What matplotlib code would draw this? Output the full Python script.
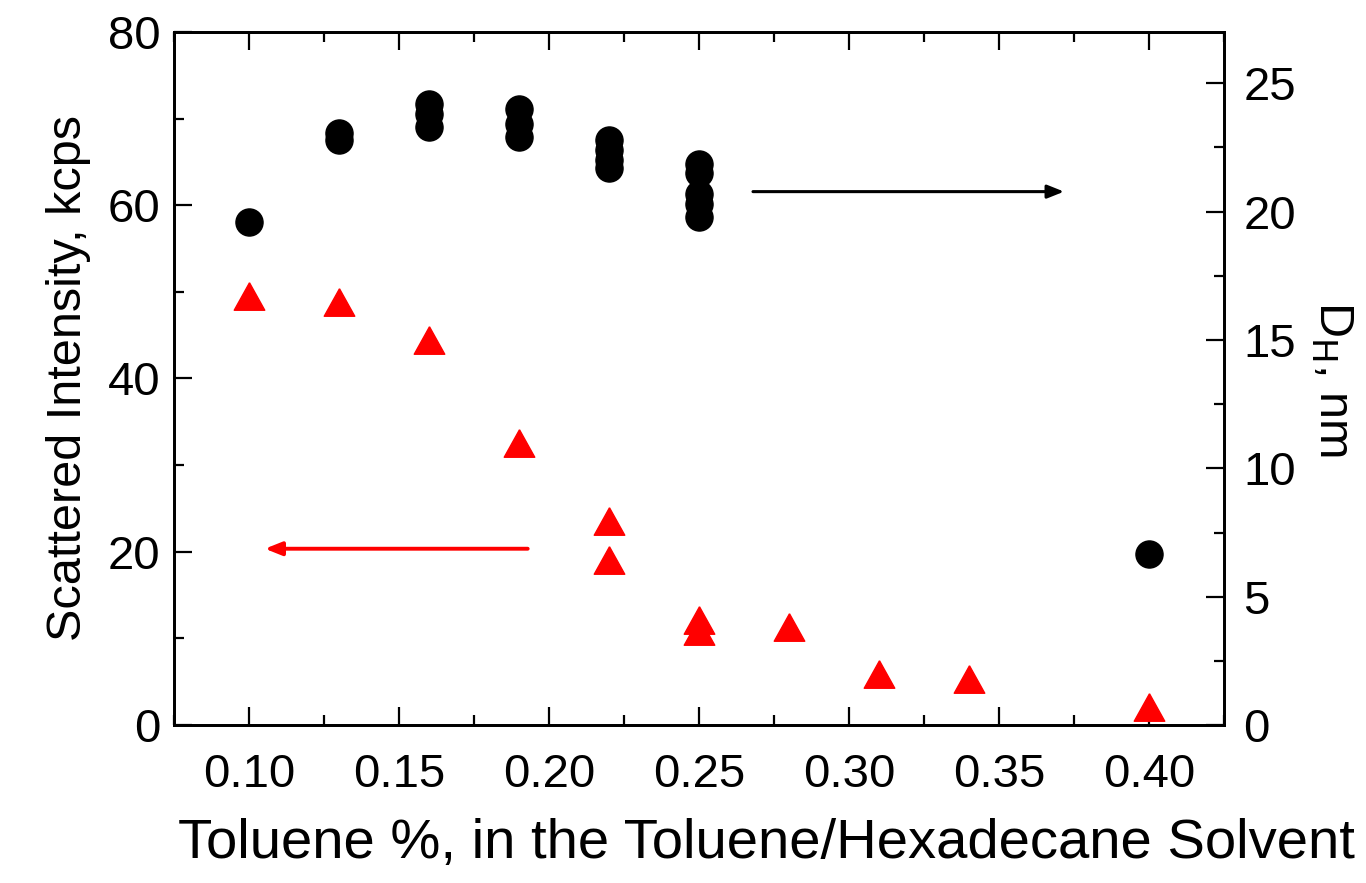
import matplotlib.pyplot as plt
from matplotlib.ticker import MultipleLocator

# scattered intensity (left axis, kcps)
tol_int = [0.10, 0.13, 0.16, 0.19, 0.22, 0.22, 0.25, 0.25, 0.28, 0.31, 0.34, 0.40]
intensity = [49.5, 48.8, 44.5, 32.6, 23.5, 19.0, 12.1, 10.9, 11.35, 5.85, 5.28, 2.04]

# hydrodynamic diameter (right axis, nm)
tol_dh = [0.10, 0.13, 0.13, 0.16, 0.16, 0.16, 0.19, 0.19, 0.19,
          0.22, 0.22, 0.22, 0.22, 0.25, 0.25, 0.25, 0.25, 0.25, 0.40]
dh = [19.58, 23.05, 22.8, 24.2, 23.8, 23.3, 24.0, 23.4, 22.9,
      22.8, 22.4, 22.0, 21.7, 21.85, 21.5, 20.7, 20.3, 19.8, 6.65]

# arrows pointing to the axis of each series
red_arrow_x = [0.1929, 0.1053]
red_arrow_y = 20.35
black_arrow_x = [0.268, 0.3717]
black_arrow_y = 20.78

plt.rcParams['font.family'] = ['Liberation Sans', 'DejaVu Sans']

fig = plt.figure(figsize=(13.66, 8.83), dpi=100)
ax = fig.add_axes([0.1274, 0.1789, 0.7686, 0.7849])
ax2 = ax.twinx()

# slightly wide triangle, like the Origin marker
tri = [(0, 0.9), (-1, -0.9), (1, -0.9), (0, 0.9)]
ax.plot(tol_int, intensity, linestyle='none', marker=tri, ms=22, color='red', clip_on=False)
ax2.plot(tol_dh, dh, linestyle='none', marker='o', ms=19.5, color='black', clip_on=False)

ax.annotate('', xy=(red_arrow_x[1], red_arrow_y), xytext=(red_arrow_x[0], red_arrow_y),
            arrowprops=dict(arrowstyle='-|>,head_length=0.5,head_width=0.2', color='red',
                            lw=2.8, mutation_scale=20, shrinkA=0, shrinkB=0))
ax2.annotate('', xy=(black_arrow_x[1], black_arrow_y), xytext=(black_arrow_x[0], black_arrow_y),
             arrowprops=dict(arrowstyle='-|>,head_length=0.5,head_width=0.2', color='black',
                             lw=2.2, mutation_scale=20, shrinkA=0, shrinkB=0))

ax.set_xlim(0.075, 0.425)
ax.set_ylim(0, 80)
ax2.set_ylim(0, 27)

ax.xaxis.set_major_locator(MultipleLocator(0.05))
ax.xaxis.set_minor_locator(MultipleLocator(0.025))
ax.yaxis.set_major_locator(MultipleLocator(20))
ax.yaxis.set_minor_locator(MultipleLocator(10))
ax2.yaxis.set_major_locator(MultipleLocator(5))
ax2.yaxis.set_minor_locator(MultipleLocator(2.5))
ax.set_xticks([0.10, 0.15, 0.20, 0.25, 0.30, 0.35, 0.40])
ax.set_xticklabels(['0.10', '0.15', '0.20', '0.25', '0.30', '0.35', '0.40'])

ax.tick_params(axis='x', which='both', direction='in', top=True, bottom=True)
ax.tick_params(axis='y', which='both', direction='in', right=False)
ax.tick_params(which='major', length=13, width=1.6, labelsize=34)
ax.tick_params(which='minor', length=7, width=1.6)
ax.tick_params(axis='x', which='major', pad=20)
ax.tick_params(axis='y', which='major', pad=10)
ax2.tick_params(axis='y', which='both', direction='in')
ax2.tick_params(which='major', length=13, width=1.6, labelsize=34, pad=14)
ax2.tick_params(which='minor', length=7, width=1.6)

for a in (ax, ax2):
    for s in a.spines.values():
        s.set_linewidth(2)

ax.set_xlabel('Toluene %, in the Toluene/Hexadecane Solvent', fontsize=40.5)
ax.xaxis.set_label_coords(0.564, -0.134)
ax.set_ylabel('Scattered Intensity, kcps', fontsize=35, labelpad=12)
ax2.set_ylabel(r'D$_\mathrm{H}$, nm', fontsize=35, rotation=270, labelpad=42)

fig.savefig('out.png', dpi=100)
